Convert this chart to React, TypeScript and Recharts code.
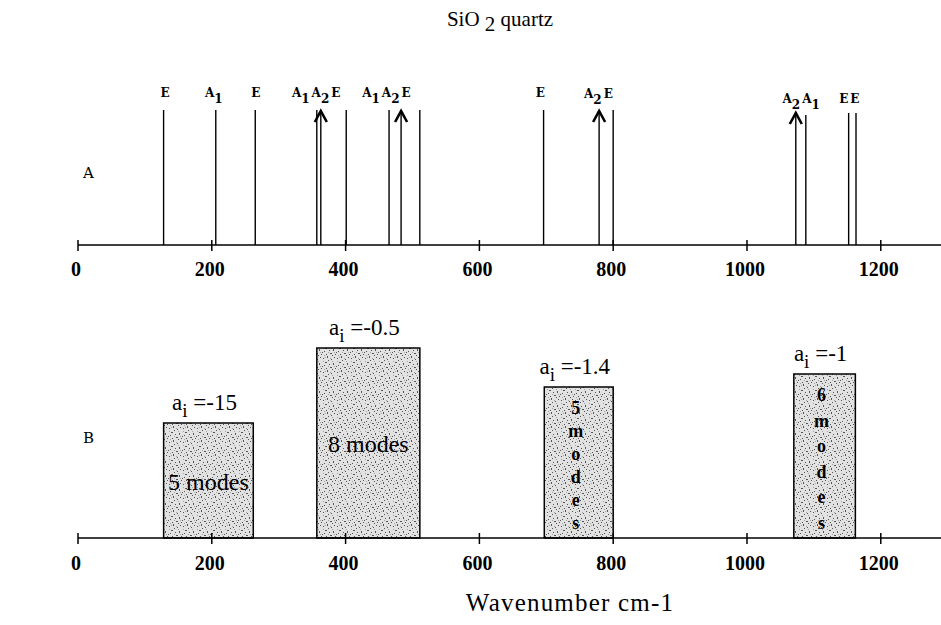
import React from "react";
import {
  ComposedChart,
  Bar,
  Scatter,
  XAxis,
  YAxis,
  ReferenceArea,
} from "recharts";

// panel A: zone-centre modes of quartz (cm-1) and their symmetry
const modeWavenumber = [128, 206, 265, 357, 363, 401, 465, 483, 511, 696, 779, 800, 1073, 1088, 1152, 1163];
const modeSymmetry = ["E", "A1", "E", "A1", "A2", "E", "A1", "A2", "E", "E", "A2", "E", "A2", "A1", "E", "E"];
const modeHeight = [135, 135, 135, 135, 135, 135, 135, 135, 135, 135, 135, 135, 133, 130, 132, 132];

// symmetry labels printed over the lines
const labelText = ["E", "A1", "E", "A1A2E", "A1A2E", "E", "A2E", "A2A1", "EE"];
const labelCenter = [130, 203, 266, 356, 461, 691, 778, 1081, 1153];
const labelHeight = [148, 148, 148, 148, 148, 148, 147, 142, 142];

// panel B: groups of modes
const bandFrom = [128, 357, 697, 1070];
const bandTo = [262, 511, 800, 1162];
const bandHeight = [115, 190, 151, 164];
const bandCoef = ["-15", "-0.5", "-1.4", "-1"];
const bandModes = [5, 8, 5, 6];

const xTicks = [0, 200, 400, 600, 800, 1000, 1200];

const modes = modeWavenumber.map((x, i) => ({ x, h: modeHeight[i], sym: modeSymmetry[i] }));
const labels = labelCenter.map((x, i) => ({ x, h: labelHeight[i], text: labelText[i] }));
const bands = bandFrom.map((x1, i) => ({
  x1,
  x2: bandTo[i],
  h: bandHeight[i],
  coef: bandCoef[i],
  modes: bandModes[i],
}));

const serif = "'Liberation Serif', 'Times New Roman', serif";
const slab = "'DejaVu Serif', serif";

const AxisTick = (props: any) => {
  const { x, y, payload, labelDy } = props;
  return (
    <g>
      <line x1={x} x2={x} y1={y - 5} y2={y + 6} stroke="#000" strokeWidth={1.5} />
      <text x={x - 2} y={y + labelDy} textAnchor="middle" fontFamily={serif} fontWeight="bold" fontSize={20} fill="#000">
        {payload.value}
      </text>
    </g>
  );
};

const ModeLine = (props: any) => {
  const { x, y, width, height, payload } = props;
  const cx = x + width / 2;
  return (
    <g>
      <line x1={cx} x2={cx} y1={y} y2={y + height} stroke="#000" strokeWidth={1.4} />
      {payload.sym === "A2" && (
        <path
          d={`M${cx - 6},${y + 12} L${cx},${y + 1} L${cx + 6},${y + 12}`}
          fill="none"
          stroke="#000"
          strokeWidth={2.6}
        />
      )}
    </g>
  );
};

const SymbolLabel = (props: any) => {
  const { cx, cy, payload } = props;
  let low = false;
  const parts = payload.text.split("").map((ch: string, i: number) => {
    const digit = /\d/.test(ch);
    const dy = digit && !low ? 6 : !digit && low ? -6 : 0;
    low = digit;
    return (
      <tspan key={i} dy={dy} dx={i > 0 && !digit ? 2 : 0} fontSize={12}>
        {ch}
      </tspan>
    );
  });
  return (
    <text x={cx} y={cy} textAnchor="middle" fontFamily={slab} fontWeight="bold" fill="#000">
      {parts}
    </text>
  );
};

const Nothing = () => <g />;

const BandLabel = (props: any) => {
  const { viewBox, coef, modes } = props;
  const { x, y, width, height } = viewBox;
  const cx = x + width / 2;
  const word = `${modes}modes`.split("");
  const vertical = width < 80;
  const step = (height - 36) / (word.length - 1);
  const mid = y + height / 2 + 9;
  return (
    <g fontFamily={serif} fill="#000">
      <text x={cx - 4} y={y - 13} textAnchor="middle" fontSize={23}>
        a<tspan dy={7} fontSize={19}>i</tspan>
        <tspan dy={-7}> =</tspan>
        {coef}
      </text>
      {vertical ? (
        word.map((ch, i) => (
          <text
            key={i}
            x={cx - 3}
            y={mid + (i - (word.length - 1) / 2) * step}
            textAnchor="middle"
            fontSize={18}
            fontWeight="bold"
          >
            {ch}
          </text>
        ))
      ) : (
        <text x={cx} y={y + height / 2 + 9} textAnchor="middle" fontSize={24}>
          {modes} modes
        </text>
      )}
    </g>
  );
};

export default function App() {
  return (
    <div style={{ position: "relative", width: 941, height: 625, background: "#fff" }}>
      <style>{`body{margin:0;background:#fff}`}</style>
      <svg width={941} height={625} style={{ position: "absolute", left: 0, top: 0 }}>
        <defs>
          <pattern id="stipple" width={14} height={14} patternUnits="userSpaceOnUse">
            <rect width={14} height={14} fill="#e2e2e2" />
            <g fill="#555">
              <rect x={1} y={2} width={1} height={1} />
              <rect x={5} y={0} width={1} height={2} />
              <rect x={9} y={3} width={1} height={1} />
              <rect x={12} y={1} width={1} height={1} />
              <rect x={3} y={6} width={2} height={1} />
              <rect x={7} y={8} width={1} height={1} />
              <rect x={11} y={7} width={1} height={2} />
              <rect x={0} y={10} width={1} height={1} />
              <rect x={4} y={12} width={1} height={1} />
              <rect x={8} y={11} width={2} height={1} />
              <rect x={13} y={12} width={1} height={1} />
              <rect x={6} y={4} width={1} height={1} />
              <rect x={10} y={13} width={1} height={1} />
              <rect x={2} y={9} width={1} height={1} />
            </g>
            <g fill="#a5a5a5">
              <rect x={3} y={1} width={1} height={1} />
              <rect x={10} y={5} width={1} height={1} />
              <rect x={1} y={5} width={1} height={1} />
              <rect x={6} y={10} width={1} height={1} />
              <rect x={12} y={10} width={1} height={1} />
              <rect x={8} y={2} width={1} height={1} />
              <rect x={2} y={13} width={1} height={1} />
            </g>
          </pattern>
        </defs>
        <text x={500} y={26} textAnchor="middle" fontFamily={serif} fontSize={21} fill="#000">
          SiO <tspan dy={5}>2</tspan>
          <tspan dy={-5}> quartz</tspan>
        </text>
        <text x={83} y={178} fontFamily={slab} fontSize={15} fill="#000">A</text>
        <text x={83} y={443} fontFamily={slab} fontSize={15} fill="#000">B</text>
      </svg>

      <div style={{ position: "absolute", left: 0, top: 0 }}>
        <ComposedChart width={941} height={300} data={modes} margin={{ top: 95, right: 0, bottom: 25, left: 78 }}>
          <XAxis
            dataKey="x"
            type="number"
            domain={[0, 1290]}
            ticks={xTicks}
            interval={0}
            tickSize={0}
            tickMargin={0}
            tickLine={false}
            axisLine={{ stroke: "#000", strokeWidth: 1.6 }}
            tick={<AxisTick labelDy={31} />}
          />
          <YAxis hide dataKey="h" type="number" domain={[0, 150]} />
          <Bar dataKey="h" barSize={2} shape={<ModeLine />} isAnimationActive={false} />
          <Scatter data={labels} dataKey="h" shape={<SymbolLabel />} isAnimationActive={false} />
        </ComposedChart>
      </div>

      <div style={{ position: "absolute", left: 0, top: 300 }}>
        <ComposedChart width={941} height={325} data={bands} margin={{ top: 38, right: 0, bottom: 7, left: 78 }}>
          <XAxis
            dataKey="x1"
            type="number"
            domain={[0, 1290]}
            ticks={xTicks}
            interval={0}
            tickSize={0}
            tickMargin={0}
            tickLine={false}
            height={80}
            axisLine={{ stroke: "#000", strokeWidth: 1.6 }}
            tick={<AxisTick labelDy={32} />}
            label={(p: any) => (
              <text
                x={p.viewBox.x + 492}
                y={p.viewBox.y + 73}
                textAnchor="middle"
                fontFamily={serif}
                fontSize={25}
                letterSpacing={1.2}
                fill="#000"
              >
                Wavenumber cm-1
              </text>
            )}
          />
          <YAxis hide dataKey="h" type="number" domain={[0, 200]} allowDataOverflow />
          <Scatter dataKey="h" shape={<Nothing />} isAnimationActive={false} />
          {bands.map((b, i) => (
            <ReferenceArea
              key={i}
              x1={b.x1}
              x2={b.x2}
              y1={0}
              y2={b.h}
              fill="url(#stipple)"
              fillOpacity={1}
              stroke="#000"
              strokeWidth={1.5}
              ifOverflow="visible"
              label={<BandLabel coef={b.coef} modes={b.modes} />}
            />
          ))}
        </ComposedChart>
      </div>
    </div>
  );
}
